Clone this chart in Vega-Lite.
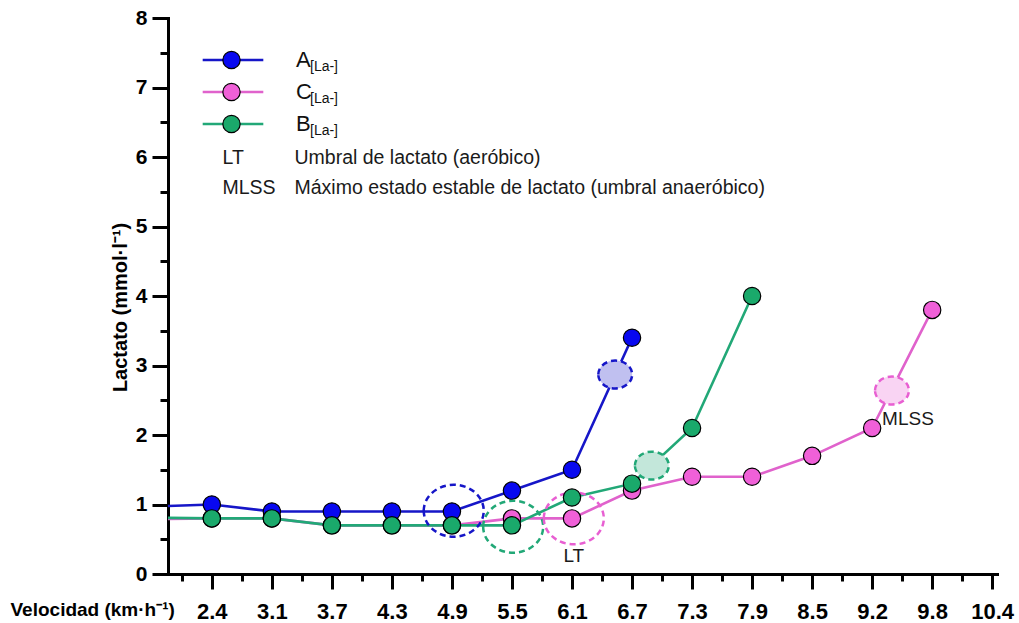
{
  "$schema": "https://vega.github.io/schema/vega-lite/v6.json",
  "width": 829,
  "height": 556,
  "autosize": "none",
  "padding": {"left": 168, "top": 18, "right": 22, "bottom": 49},
  "background": "white",
  "config": {"view": {"stroke": null}, "font": "Liberation Sans"},
  "datasets": {
    "lactato": [
      {"grupo": "C", "etapa": 0, "lactato": 0.79},
      {"grupo": "C", "etapa": 1, "lactato": 0.8},
      {"grupo": "C", "etapa": 2, "lactato": 0.8},
      {"grupo": "C", "etapa": 3, "lactato": 0.7},
      {"grupo": "C", "etapa": 4, "lactato": 0.7},
      {"grupo": "C", "etapa": 5, "lactato": 0.7},
      {"grupo": "C", "etapa": 6, "lactato": 0.8},
      {"grupo": "C", "etapa": 7, "lactato": 0.8},
      {"grupo": "C", "etapa": 8, "lactato": 1.2},
      {"grupo": "C", "etapa": 9, "lactato": 1.4},
      {"grupo": "C", "etapa": 10, "lactato": 1.4},
      {"grupo": "C", "etapa": 11, "lactato": 1.7},
      {"grupo": "C", "etapa": 12, "lactato": 2.1},
      {"grupo": "C", "etapa": 13, "lactato": 3.8},
      {"grupo": "A", "etapa": 0, "lactato": 0.97},
      {"grupo": "A", "etapa": 1, "lactato": 1.0},
      {"grupo": "A", "etapa": 2, "lactato": 0.9},
      {"grupo": "A", "etapa": 3, "lactato": 0.9},
      {"grupo": "A", "etapa": 4, "lactato": 0.9},
      {"grupo": "A", "etapa": 5, "lactato": 0.9},
      {"grupo": "A", "etapa": 6, "lactato": 1.2},
      {"grupo": "A", "etapa": 7, "lactato": 1.5},
      {"grupo": "A", "etapa": 8, "lactato": 3.4},
      {"grupo": "B", "etapa": 0, "lactato": 0.81},
      {"grupo": "B", "etapa": 1, "lactato": 0.8},
      {"grupo": "B", "etapa": 2, "lactato": 0.8},
      {"grupo": "B", "etapa": 3, "lactato": 0.7},
      {"grupo": "B", "etapa": 4, "lactato": 0.7},
      {"grupo": "B", "etapa": 5, "lactato": 0.7},
      {"grupo": "B", "etapa": 6, "lactato": 0.7},
      {"grupo": "B", "etapa": 7, "lactato": 1.1},
      {"grupo": "B", "etapa": 8, "lactato": 1.3},
      {"grupo": "B", "etapa": 9, "lactato": 2.1},
      {"grupo": "B", "etapa": 10, "lactato": 4.0}
    ],
    "umbrales": [
      {"grupo": "A", "umbral": "LT", "descripcion": "Umbral de lactato (aeróbico)", "etapa": 5.03, "lactato": 0.91},
      {"grupo": "B", "umbral": "LT", "descripcion": "Umbral de lactato (aeróbico)", "etapa": 6.02, "lactato": 0.68},
      {"grupo": "C", "umbral": "LT", "descripcion": "Umbral de lactato (aeróbico)", "etapa": 7.03, "lactato": 0.8},
      {"grupo": "A", "umbral": "MLSS", "descripcion": "Máximo estado estable de lactato (umbral anaeróbico)", "etapa": 7.72, "lactato": 2.87},
      {"grupo": "B", "umbral": "MLSS", "descripcion": "Máximo estado estable de lactato (umbral anaeróbico)", "etapa": 8.33, "lactato": 1.56},
      {"grupo": "C", "umbral": "MLSS", "descripcion": "Máximo estado estable de lactato (umbral anaeróbico)", "etapa": 12.33, "lactato": 2.64}
    ]
  },
  "encoding": {
    "x": {
      "field": "etapa",
      "type": "quantitative",
      "scale": {"domain": [0.27, 14.08], "nice": false, "zero": false},
      "axis": {
        "values": [0.5, 1, 1.5, 2, 2.5, 3, 3.5, 4, 4.5, 5, 5.5, 6, 6.5, 7, 7.5, 8, 8.5, 9, 9.5, 10, 10.5, 11, 11.5, 12, 12.5, 13, 13.5, 14],
        "grid": false,
        "domainColor": "black",
        "domainWidth": 3,
        "domainCap": "square",
        "tickColor": "black",
        "tickWidth": 3,
        "tickSize": {"condition": {"test": "datum.value % 1 === 0", "value": 15}, "value": 7},
        "labelExpr": "datum.value % 1 === 0 ? ['2.4','3.1','3.7','4.3','4.9','5.5','6.1','6.7','7.3','7.9','8.5','9.2','9.8','10.4'][datum.value - 1] : ''",
        "labelFontSize": 22,
        "labelFontWeight": "bold",
        "labelColor": "black",
        "labelPadding": 12,
        "labelOverlap": false,
        "labelFlush": false,
        "title": "Velocidad (km·h⁻¹)",
        "titleFontSize": 19,
        "titleFontWeight": "bold",
        "titleColor": "black",
        "titleAlign": "left",
        "titleBaseline": "middle",
        "titleX": -158,
        "titleY": 35
      }
    },
    "y": {
      "field": "lactato",
      "type": "quantitative",
      "scale": {"domain": [0, 8], "nice": false},
      "axis": {
        "values": [0, 0.5, 1, 1.5, 2, 2.5, 3, 3.5, 4, 4.5, 5, 5.5, 6, 6.5, 7, 7.5, 8],
        "grid": false,
        "domainColor": "black",
        "domainWidth": 3,
        "domainCap": "square",
        "tickColor": "black",
        "tickWidth": 3,
        "tickSize": {"condition": {"test": "datum.value % 1 === 0", "value": 16}, "value": 8},
        "labelExpr": "datum.value % 1 === 0 ? format(datum.value, 'd') : ''",
        "labelFontSize": 21,
        "labelFontWeight": "bold",
        "labelColor": "black",
        "labelPadding": 5,
        "labelOverlap": false,
        "labelFlush": false,
        "title": "Lactato (mmol·l⁻¹)",
        "titleFontSize": 20,
        "titleFontWeight": "bold",
        "titleColor": "black",
        "titleAlign": "center",
        "titleBaseline": "middle",
        "titleX": -48,
        "titleY": 289
      }
    }
  },
  "layer": [
    {
      "data": {"name": "lactato"},
      "mark": {"type": "line", "clip": true, "strokeWidth": 2.6},
      "encoding": {
        "stroke": {
          "field": "grupo",
          "type": "nominal",
          "scale": {"domain": ["A", "C", "B"], "range": ["#1616c8", "#e062cc", "#22a877"]},
          "legend": {
            "orient": "none", "legendX": 29, "legendY": 26, "title": null, "padding": 0,
            "symbolType": "M-3.5,0H3.5", "symbolSize": 300, "symbolStrokeWidth": 2.6, "symbolOffset": 25,
            "labelFontSize": 22, "labelColor": "#111111", "labelOffset": 52,
            "clipHeight": 32, "rowPadding": 0
          }
        }
      }
    },
    {
      "data": {"name": "umbrales"},
      "transform": [{"filter": "datum.umbral === 'MLSS'"}],
      "mark": {"type": "point", "shape": "M-1.13,0A1.13,0.93 0 1,1 1.13,0A1.13,0.93 0 1,1 -1.13,0Z", "size": 900, "filled": true, "fill": "white", "opacity": 1, "strokeWidth": 0}
    },
    {
      "data": {"name": "umbrales"},
      "transform": [{"filter": "datum.umbral === 'MLSS'"}],
      "mark": {"type": "point", "shape": "M-1.13,0A1.13,0.93 0 1,1 1.13,0A1.13,0.93 0 1,1 -1.13,0Z", "size": 900, "filled": true, "opacity": 0.27, "strokeWidth": 0},
      "encoding": {
        "color": {"field": "grupo", "type": "nominal", "scale": {"range": ["#1616c8", "#22a877", "#e85fd2"]}, "legend": null}
      }
    },
    {
      "data": {"name": "umbrales"},
      "mark": {"type": "point", "filled": false, "size": 900, "strokeWidth": 2.5, "opacity": 1},
      "encoding": {
        "color": {"field": "grupo", "type": "nominal", "legend": null},
        "shape": {
          "field": "umbral",
          "type": "nominal",
          "scale": {"range": ["M-2,0A2,1.73 0 1,1 2,0A2,1.73 0 1,1 -2,0Z", "M-1.13,0A1.13,0.93 0 1,1 1.13,0A1.13,0.93 0 1,1 -1.13,0Z"]},
          "legend": {
            "orient": "none", "legendX": 35, "legendY": 125, "title": null, "padding": 0,
            "symbolOpacity": 0, "symbolSize": 1, "symbolStrokeWidth": 0,
            "labelFontSize": 19.5, "labelColor": "#1a1a1a", "labelOffset": 0, "labelLimit": 0,
            "clipHeight": 30, "rowPadding": 0
          }
        },
        "strokeDash": {
          "field": "descripcion",
          "type": "nominal",
          "sort": "descending",
          "scale": {"range": [[6, 4], [6, 4]]},
          "legend": {
            "orient": "none", "legendX": 107, "legendY": 125, "title": null, "padding": 0,
            "symbolOpacity": 0, "symbolSize": 1, "symbolStrokeWidth": 0,
            "labelFontSize": 19.5, "labelColor": "#1a1a1a", "labelOffset": 0, "labelLimit": 0,
            "clipHeight": 30, "rowPadding": 0
          }
        }
      }
    },
    {
      "data": {"name": "lactato"},
      "transform": [{"filter": "datum.etapa >= 1"}],
      "mark": {"type": "point", "shape": "circle", "filled": true, "size": 300, "stroke": "black", "strokeWidth": 1.2, "opacity": 1},
      "encoding": {
        "fill": {
          "field": "grupo",
          "type": "nominal",
          "scale": {"range": ["#0808f0", "#1aa96b", "#f060d8"]},
          "legend": {
            "orient": "none", "legendX": 29, "legendY": 26, "title": null, "padding": 0,
            "values": ["A", "C", "B"],
            "symbolType": "circle", "symbolSize": 300, "symbolStrokeColor": "black", "symbolStrokeWidth": 1.2, "symbolOffset": 25,
            "labelExpr": "'[La-]'", "labelFontSize": 14, "labelBaseline": "top", "labelColor": "#111111", "labelOffset": 69,
            "clipHeight": 32, "rowPadding": 0
          }
        }
      }
    },
    {
      "data": {"name": "umbrales"},
      "transform": [{"filter": "datum.grupo === 'C' && datum.umbral === 'LT'"}],
      "mark": {"type": "text", "dy": 38, "fontSize": 19, "color": "#1a1a1a"},
      "encoding": {"text": {"field": "umbral"}}
    },
    {
      "data": {"name": "umbrales"},
      "transform": [{"filter": "datum.grupo === 'C' && datum.umbral === 'MLSS'"}],
      "mark": {"type": "text", "dx": 16, "dy": 28, "fontSize": 19, "color": "#1a1a1a"},
      "encoding": {"text": {"field": "umbral"}}
    }
  ]
}
